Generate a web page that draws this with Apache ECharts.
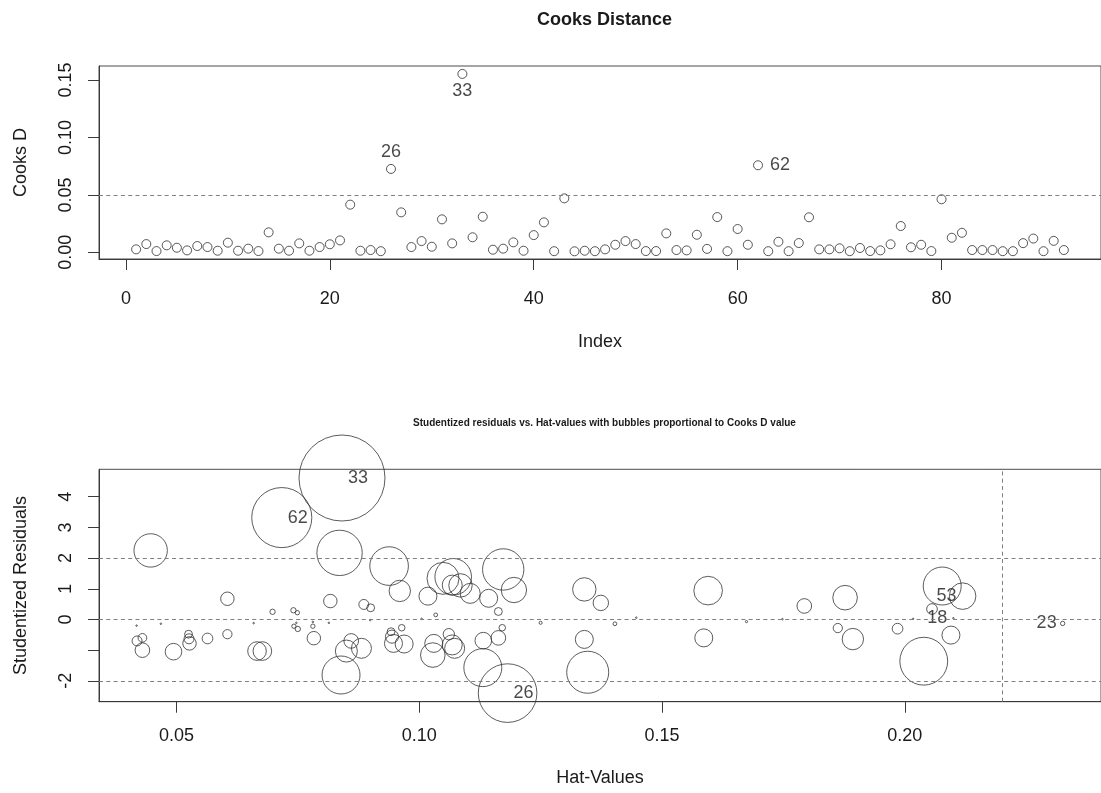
<!DOCTYPE html>
<html>
<head>
<meta charset="utf-8">
<script src="https://cdn.jsdelivr.net/npm/echarts@6/dist/echarts.min.js"></script>
<style>
  html, body { margin: 0; padding: 0; background: #ffffff; }
  #chart { width: 1101px; height: 793px; }
</style>
</head>
<body>
<div id="chart"></div>
<script>
// ---- Cook's distance per observation (index 1..92) ----
const cooksD = [
  0.0026, 0.0072, 0.0011, 0.0061, 0.0040, 0.0017, 0.0055, 0.0046, 0.0014, 0.0084,
  0.0014, 0.0032, 0.0011, 0.0174, 0.0032, 0.0014, 0.0078, 0.0014, 0.0046, 0.0070,
  0.0104, 0.0415, 0.0014, 0.0020, 0.0010, 0.0726, 0.0348, 0.0046, 0.0098, 0.0049,
  0.0287, 0.0078, 0.1553, 0.0131, 0.0310, 0.0023, 0.0032, 0.0087, 0.0014, 0.0150,
  0.0261, 0.0010, 0.0470, 0.0009, 0.0014, 0.0010, 0.0026, 0.0066, 0.0098, 0.0072,
  0.0011, 0.0011, 0.0165, 0.0020, 0.0017, 0.0153, 0.0030, 0.0307, 0.0010, 0.0203,
  0.0066, 0.0758, 0.0010, 0.0092, 0.0010, 0.0081, 0.0305, 0.0026, 0.0026, 0.0035,
  0.0010, 0.0038, 0.0011, 0.0017, 0.0070, 0.0229, 0.0044, 0.0066, 0.0011, 0.0462,
  0.0127, 0.0170, 0.0020, 0.0020, 0.0020, 0.0010, 0.0010, 0.0080, 0.0120, 0.0010,
  0.0100, 0.0020
];
const cooksCutoff = 0.0476;
const indexTicks = [0, 20, 40, 60, 80];
const cooksTicks = [0, 0.05, 0.10, 0.15];
// observations annotated on the index plot, with where the number sits
const cooksFlagged = [33, 26, 62];
const cooksFlagPos = ['bottom', 'top', 'right'];

// ---- influence bubbles: hat value, studentized residual, Cook's D ----
const hatValues = [
  0.0447, 0.0717, 0.0841, 0.0836, 0.0605, 0.0817, 0.0698, 0.0741, 0.0749, 0.0747,
  0.0742, 0.0750, 0.0781, 0.0781, 0.0783, 0.0814, 0.0418, 0.0468, 0.0659, 0.0419,
  0.0430, 0.0430, 0.0494, 0.0525, 0.0526, 0.0527, 0.0564, 0.0605, 0.0666, 0.0677,
  0.0860, 0.0881, 0.0850, 0.0839, 0.0938, 0.0960, 0.0886, 0.0900, 0.1018, 0.1049,
  0.1070, 0.1068, 0.1085, 0.1105, 0.1143, 0.1173, 0.1195, 0.1163, 0.1034, 0.0899,
  0.1005, 0.1250, 0.0942, 0.0944, 0.0947, 0.0969, 0.0964, 0.1030, 0.1028, 0.1061,
  0.1068, 0.1073, 0.1132, 0.1163, 0.1171, 0.1131, 0.1182, 0.1340, 0.1374, 0.1340,
  0.1347, 0.1595, 0.1586, 0.1403, 0.1447, 0.1674, 0.1748, 0.1793, 0.1877, 0.1862,
  0.1893, 0.1985, 0.2017, 0.2039, 0.2077, 0.2119, 0.2056, 0.2100, 0.2095, 0.2325
];
const studResid = [
  2.25, 3.32, 4.61, 2.17, 0.675, 0.60, 0.25, 0.30, 0.22, -0.11,
  -0.22, -0.31, -0.22, -0.08, -0.61, -0.11, -0.20, -0.14, -0.12, -0.70,
  -0.60, -1.00, -1.05, -0.48, -0.63, -0.78, -0.62, -0.48, -1.03, -1.03,
  -0.70, -0.94, -1.03, -1.81, 1.74, 0.93, 0.49, 0.38, 0.76, 1.34,
  1.39, 1.12, 1.11, 0.85, 0.69, 1.63, 0.96, 0.26, 0.15, -0.02,
  0.02, -0.11, -0.40, -0.56, -0.78, -0.80, -0.27, -0.78, -1.16, -0.48,
  -0.83, -0.94, -0.69, -0.60, -0.27, -1.57, -2.40, 0.98, 0.54, -0.65,
  -1.72, 0.94, -0.60, -0.14, 0.06, -0.07, 0.01, 0.44, 0.71, -0.28,
  -0.64, -0.30, 0.02, -1.36, 1.09, 0.76, 0.34, 0.04, -0.51, -0.13
];
const bubbleCooks = [
  0.0234, 0.0758, 0.1553, 0.0432, 0.0038, 0.0038, 0.0006, 0.0006, 0.0004, 0.00005,
  0.0004, 0.0006, 0.0004, 0.00005, 0.0038, 0.00005, 0.00005, 0.00005, 0.00005, 0.0021,
  0.0016, 0.0045, 0.0058, 0.0013, 0.0021, 0.0038, 0.0024, 0.0018, 0.0073, 0.0073,
  0.0045, 0.0084, 0.0102, 0.0303, 0.0313, 0.0096, 0.0021, 0.0013, 0.0068, 0.0215,
  0.0281, 0.0084, 0.0115, 0.0084, 0.0068, 0.0359, 0.0135, 0.0013, 0.0003, 0.00005,
  0.00005, 0.0002, 0.0013, 0.0036, 0.0068, 0.0068, 0.0009, 0.0068, 0.0127, 0.0027,
  0.0084, 0.0084, 0.0058, 0.0045, 0.0009, 0.0303, 0.0722, 0.0115, 0.0050, 0.0068,
  0.0371, 0.0172, 0.0068, 0.0003, 0.00005, 0.0001, 0.00005, 0.0045, 0.0127, 0.0018,
  0.0096, 0.0024, 0.00005, 0.0480, 0.0303, 0.0148, 0.0024, 0.00005, 0.0068, 0.0004
];
// observation numbers shown beside the most influential bubbles
const bubbleIds = [
  '', '62', '33', '', '', '', '', '', '', '', '', '', '', '', '', '', '', '', '', '',
  '', '', '', '', '', '', '', '', '', '', '', '', '', '', '', '', '', '', '', '',
  '', '', '', '', '', '', '', '', '', '', '', '', '', '', '', '', '', '', '', '',
  '', '', '', '', '', '', '26', '', '', '', '', '', '', '', '', '', '', '', '', '',
  '', '', '', '', '', '53', '', '18', '', '23'
];
const hatCutoff = 0.2172;
const residRefLines = [-2, 0, 2];
const hatTicks = [0.05, 0.10, 0.15, 0.20];
const residTicks = [-2, -1, 0, 1, 2, 3, 4];
const residTickLabels = [-2, 0, 1, 2, 3, 4];

// ---- drawing ----
const FONT = '"Liberation Sans", Arial, Helvetica, sans-serif';
const INK = '#1a1a1a';
const AXIS = '#3a3a3a';
const REF = '#808080';
const DASH = [4, 3.3];
const MAX_RADIUS = 43;                       // px radius of the largest bubble
const maxCook = Math.max.apply(null, bubbleCooks);

const hatMin = 0.03406, hatMax = 0.2404;
const hatMid = (Math.min.apply(null, hatValues) + Math.max.apply(null, hatValues)) / 2;

function valueAxis(gridIndex, min, max, ticks, labels, fmt, name, nameGap, labelMargin, isY) {
  return {
    type: 'value', gridIndex, min, max,
    name, nameLocation: 'middle', nameGap,
    nameTextStyle: { fontFamily: FONT, fontSize: 18, color: INK },
    axisLine: { show: true, onZero: false, lineStyle: { color: AXIS, width: 1 } },
    axisTick: { show: true, inside: false, length: 11, customValues: ticks,
                lineStyle: { color: AXIS, width: 1 } },
    axisLabel: { show: true, customValues: labels, formatter: fmt,
                 rotate: isY ? 90 : 0, margin: labelMargin,
                 fontFamily: FONT, fontSize: 18, color: INK },
    splitLine: { show: false }
  };
}

const cooksPoints = cooksD.map((d, i) => {
  const idx = i + 1;
  const k = cooksFlagged.indexOf(idx);
  const item = { value: [idx, d] };
  if (k >= 0) {
    item.label = { show: true, formatter: String(idx), position: cooksFlagPos[k],
                   distance: cooksFlagPos[k] === 'right' ? 7 : 3 };
  }
  return item;
});

const bubbles = hatValues.map((h, i) => [h, studResid[i], bubbleCooks[i]]);
const bubbleLabels = [];
bubbleIds.forEach((id, i) => {
  if (id) {
    bubbleLabels.push({
      value: [hatValues[i], studResid[i]],
      label: { show: true, formatter: id, position: hatValues[i] > hatMid ? 'left' : 'right', distance: 6 }
    });
  }
});

const refLineStyle = { color: REF, type: DASH, width: 1 };

const option = {
  backgroundColor: '#ffffff',
  animation: false,
  textStyle: { fontFamily: FONT },
  graphic: [
    { type: 'text', style: { x: 604.5, y: 20, text: 'Cooks Distance',
      textAlign: 'center', textVerticalAlign: 'middle',
      font: 'bold 18px ' + FONT, fill: INK } },
    { type: 'text', style: { x: 604.5, y: 423,
      text: 'Studentized residuals vs. Hat-values with bubbles proportional to Cooks D value',
      textAlign: 'center', textVerticalAlign: 'middle',
      font: 'bold 10px ' + FONT, fill: INK } }
  ],
  grid: [
    { left: 99, top: 66, width: 1011, height: 193, show: true,
      borderColor: '#4d4d4d', borderWidth: 1, backgroundColor: 'transparent' },
    { left: 99, top: 469.3, width: 1011, height: 232.4, show: true,
      borderColor: '#4d4d4d', borderWidth: 1, backgroundColor: 'transparent' }
  ],
  xAxis: [
    valueAxis(0, -2.64, 95.64, indexTicks, indexTicks, v => String(v), 'Index', 74, 31, false),
    valueAxis(1, hatMin, hatMax, hatTicks, hatTicks, v => v.toFixed(2), 'Hat-Values', 67, 25, false)
  ],
  yAxis: [
    valueAxis(0, -0.0058, 0.1622, cooksTicks, cooksTicks, v => v.toFixed(2), 'Cooks D', 69, 24, true),
    valueAxis(1, -2.68, 4.894, residTicks, residTickLabels, v => String(v), 'Studentized Residuals', 69, 24, true)
  ],
  series: [
    {
      type: 'scatter', xAxisIndex: 0, yAxisIndex: 0,
      data: cooksPoints, symbol: 'circle', symbolSize: 9,
      itemStyle: { color: 'transparent', borderColor: '#2e2e2e', borderWidth: 1 },
      label: { fontFamily: FONT, fontSize: 18, color: INK },
      emphasis: { disabled: true },
      markLine: { silent: true, symbol: ['none', 'none'], label: { show: false },
                  lineStyle: refLineStyle, data: [{ yAxis: cooksCutoff }] }
    },
    {
      type: 'scatter', xAxisIndex: 1, yAxisIndex: 1,
      data: bubbles, symbol: 'circle',
      symbolSize: v => 2 * MAX_RADIUS * Math.sqrt(v[2] / maxCook),
      itemStyle: { color: 'transparent', borderColor: '#333333', borderWidth: 1 },
      emphasis: { disabled: true },
      markLine: { silent: true, symbol: ['none', 'none'], label: { show: false },
                  lineStyle: refLineStyle,
                  data: residRefLines.map(v => ({ yAxis: v })).concat([{ xAxis: hatCutoff }]) }
    },
    {
      type: 'scatter', xAxisIndex: 1, yAxisIndex: 1,
      data: bubbleLabels, symbolSize: 0, silent: true,
      label: { fontFamily: FONT, fontSize: 18, color: INK },
      emphasis: { disabled: true }
    }
  ]
};

const chart = echarts.init(document.getElementById('chart'), null, { renderer: 'canvas' });
chart.setOption(option);
</script>
</body>
</html>
